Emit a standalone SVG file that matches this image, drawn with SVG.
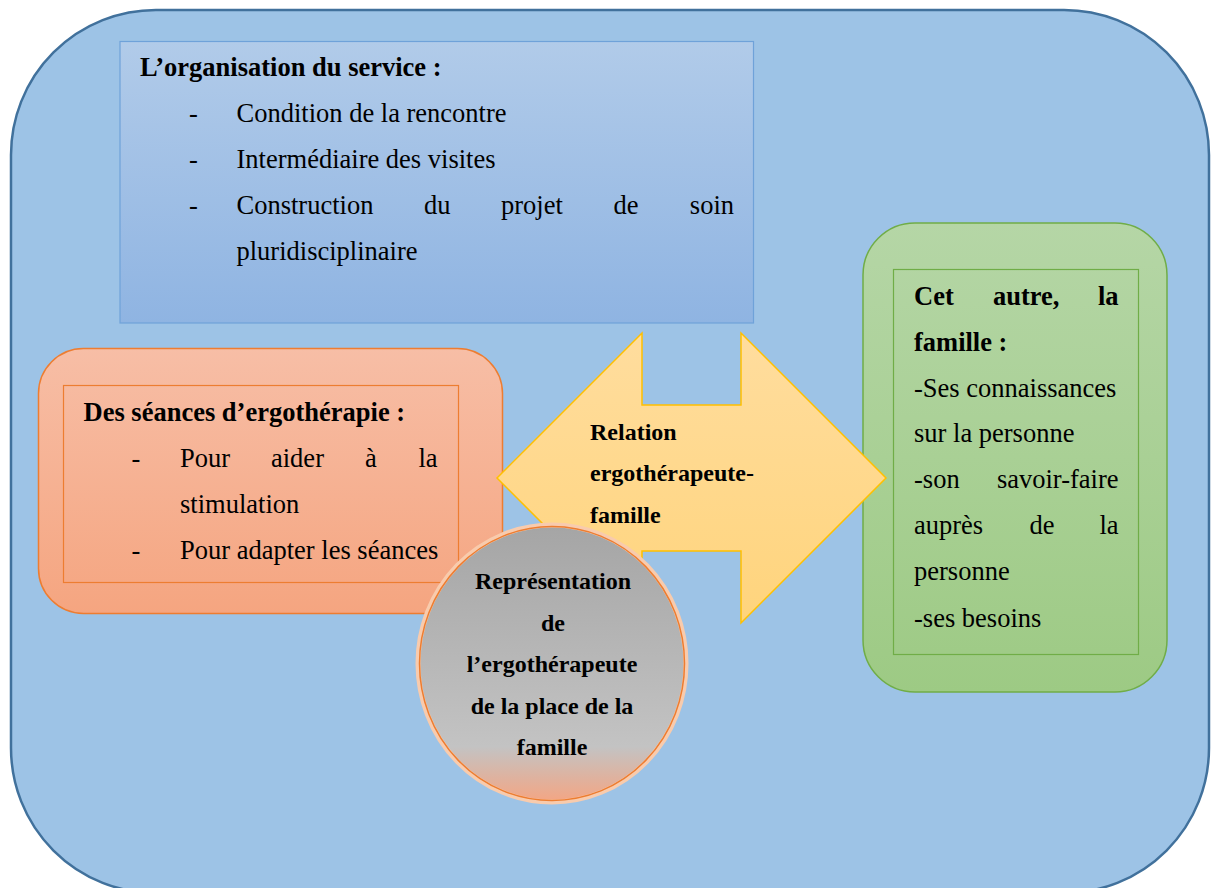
<svg xmlns="http://www.w3.org/2000/svg" width="1216" height="888" viewBox="0 0 1216 888">
<defs>
<linearGradient id="gTop" x1="0" y1="0" x2="0" y2="1"><stop offset="0" stop-color="#b1cbe9"/><stop offset="1" stop-color="#8fb4e2"/></linearGradient>
<linearGradient id="gLeft" x1="0" y1="0" x2="0" y2="1"><stop offset="0" stop-color="#f7bea6"/><stop offset="1" stop-color="#f5a580"/></linearGradient>
<linearGradient id="gRight" x1="0" y1="0" x2="0" y2="1"><stop offset="0" stop-color="#b5d6a6"/><stop offset="1" stop-color="#9dca84"/></linearGradient>
<linearGradient id="gArrow" x1="0" y1="0" x2="0" y2="1"><stop offset="0" stop-color="#ffdd9e"/><stop offset="1" stop-color="#ffd47c"/></linearGradient>
<linearGradient id="gCircle" x1="0" y1="0" x2="0" y2="1"><stop offset="0" stop-color="#a5a5a5"/><stop offset="0.8" stop-color="#c3c3c3"/><stop offset="1" stop-color="#f4a583"/></linearGradient>
</defs>
<style>
text{font-family:"Liberation Serif","Times New Roman",serif;fill:#000}
.t{font-size:26.5px}
.b{font-weight:bold}
.s{font-size:24px;font-weight:bold}
.e{text-anchor:end}
.m{text-anchor:middle}
</style>
<g id="background">
<rect x="11" y="10" width="1198" height="883" rx="145" ry="145" fill="#9dc3e6" stroke="#41719c" stroke-width="2.5"/>
</g>
<g id="organisation">
<rect x="120" y="41.5" width="633.5" height="281.5" fill="url(#gTop)" stroke="#6fa2d9" stroke-width="1.2"/>
<text class="t b" x="140" y="76">L’organisation du service :</text>
<text class="t" x="189" y="122">-</text>
<text class="t" x="236.5" y="122">Condition de la rencontre</text>
<text class="t" x="189" y="168">-</text>
<text class="t" x="236.5" y="168">Intermédiaire des visites</text>
<text class="t" x="189" y="214">-</text>
<text class="t" x="236.5" y="214">Construction</text>
<text class="t" x="424" y="214">du</text>
<text class="t" x="501" y="214">projet</text>
<text class="t" x="613.5" y="214">de</text>
<text class="t e" x="734" y="214">soin</text>
<text class="t" x="236.5" y="260">pluridisciplinaire</text>
</g>
<g id="seances">
<rect x="38.5" y="348.5" width="464" height="265" rx="45" ry="45" fill="url(#gLeft)" stroke="#ed7d31" stroke-width="1.5"/>
<rect x="63.5" y="385.5" width="395" height="197" fill="none" stroke="#ed7d31" stroke-width="1.2"/>
<text class="t b" x="83.5" y="421">Des séances d’ergothérapie :</text>
<text class="t" x="131.5" y="467">-</text>
<text class="t" x="180" y="467">Pour</text>
<text class="t" x="271" y="467">aider</text>
<text class="t" x="365" y="467">à</text>
<text class="t e" x="437.5" y="467">la</text>
<text class="t" x="180" y="513">stimulation</text>
<text class="t" x="131.5" y="559">-</text>
<text class="t" x="180" y="559">Pour adapter les séances</text>
</g>
<g id="famille">
<rect x="863" y="223" width="304" height="469" rx="52" ry="52" fill="url(#gRight)" stroke="#70ad47" stroke-width="1.5"/>
<rect x="893.5" y="269.5" width="245" height="385" fill="none" stroke="#70ad47" stroke-width="1.2"/>
<text class="t b" x="914" y="305">Cet</text>
<text class="t b" x="993" y="305">autre,</text>
<text class="t b e" x="1118.5" y="305">la</text>
<text class="t b" x="914" y="351">famille :</text>
<text class="t" x="914" y="397">-Ses connaissances</text>
<text class="t" x="914" y="442">sur la personne</text>
<text class="t" x="914" y="488">-son</text>
<text class="t e" x="1118.5" y="488">savoir-faire</text>
<text class="t" x="914" y="534">auprès</text>
<text class="t" x="1029.5" y="534">de</text>
<text class="t e" x="1118.5" y="534">la</text>
<text class="t" x="914" y="580">personne</text>
<text class="t" x="914" y="627">-ses besoins</text>
</g>
<g id="relation">
<path d="M497,478 L642,333 L642,405 L741,405 L741,333 L886,478 L741,623 L741,551 L642,551 L642,623 Z" fill="url(#gArrow)" stroke="#ffc000" stroke-width="1.5" stroke-linejoin="miter"/>
<text class="s" x="590" y="439.5">Relation</text>
<text class="s" x="590" y="481">ergothérapeute-</text>
<text class="s" x="590" y="522.5">famille</text>
</g>
<g id="representation">
<ellipse cx="552" cy="663.5" rx="134" ry="138.5" fill="url(#gCircle)" stroke="#f8cbad" stroke-width="5"/>
<ellipse cx="552" cy="663.5" rx="132.5" ry="137" fill="none" stroke="#ed7d31" stroke-width="1.5"/>
<text class="s m" x="553" y="589">Représentation</text>
<text class="s m" x="553" y="631">de</text>
<text class="s m" x="552" y="672">l’ergothérapeute</text>
<text class="s m" x="552" y="713.5">de la place de la</text>
<text class="s m" x="552" y="755">famille</text>
</g>
</svg>
